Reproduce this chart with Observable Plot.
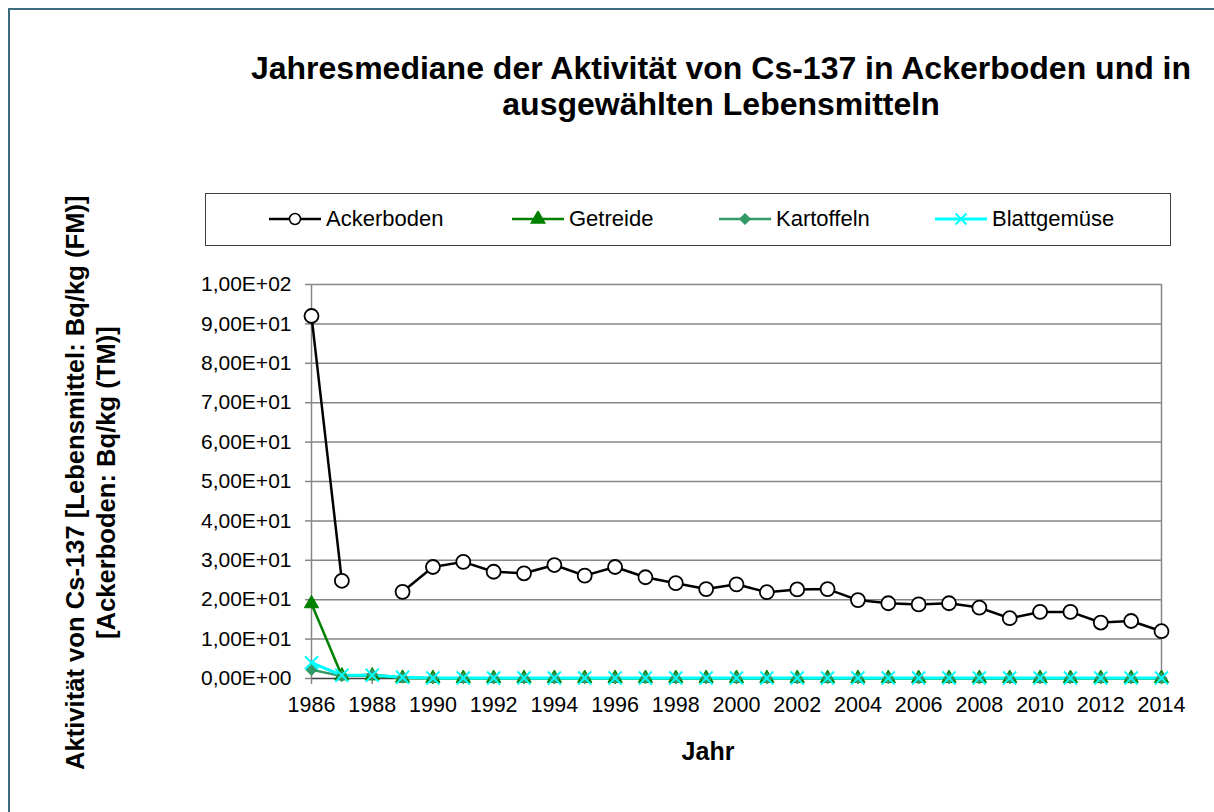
<!DOCTYPE html>
<html>
<head>
<meta charset="utf-8">
<script src="https://cdn.jsdelivr.net/npm/d3@7"></script>
<script src="https://cdn.jsdelivr.net/npm/@observablehq/plot@0.6"></script>
<style>
  html, body { margin: 0; padding: 0; background: #fff; overflow: hidden; }
  #root { position: relative; width: 1214px; height: 812px; font-family: "Liberation Sans", Arial, sans-serif; color: #000; }
  #frame { position: absolute; left: 8px; top: 8px; width: 1300px; height: 900px; border-left: 2px solid #3e6a80; border-top: 2px solid #3e6a80; box-sizing: border-box; }
  .title { position: absolute; left: 0; width: 1442px; text-align: center; font-weight: bold; font-size: 32px; white-space: nowrap; }
  #legend { position: absolute; left: 205px; top: 193px; width: 966px; height: 53px; border: 1.5px solid #404040; box-sizing: border-box; background: #fff; }
  .item { position: absolute; top: 0; height: 50px; display: flex; align-items: center; font-size: 22px; white-space: nowrap; }
  .item svg { margin-right: 4px; }
  #chart { position: absolute; left: 0; top: 0; width: 1214px; height: 812px; }
  #chart svg { max-width: none !important; }
  .ylab { position: absolute; font-weight: bold; font-size: 25.6px; white-space: nowrap; transform-origin: 0 0; }
  #xlab { position: absolute; left: 0; width: 1416px; top: 737px; text-align: center; font-weight: bold; font-size: 25px; }
</style>
</head>
<body>
<div id="root">
  <div id="frame"></div>
  <div class="title" id="t1" style="top:50px">Jahresmediane der Aktivität von Cs-137 in Ackerboden und in</div>
  <div class="title" id="t2" style="top:86px">ausgewählten Lebensmitteln</div>
  <div id="legend"></div>
  <div id="chart"></div>
  <div id="xlab">Jahr</div>
</div>
<script>
// ---- data ----
const years = [1986, 1987, 1988, 1989, 1990, 1991, 1992, 1993, 1994, 1995, 1996, 1997, 1998, 1999, 2000,
               2001, 2002, 2003, 2004, 2005, 2006, 2007, 2008, 2009, 2010, 2011, 2012, 2013, 2014];
const ackerboden = [92.0, 24.8, null, 22.0, 28.3, 29.6, 27.1, 26.7, 28.8, 26.1, 28.3, 25.7, 24.2, 22.7, 23.9,
                    21.9, 22.6, 22.7, 19.9, 19.1, 18.8, 19.1, 18.0, 15.3, 16.9, 16.9, 14.2, 14.6, 12.0];
const getreide = [19.0, 0.7, 0.7, 0.1, 0.05, 0.05, 0.05, 0.05, 0.05, 0.05, 0.05, 0.05, 0.05, 0.05, 0.05,
                  0.05, 0.05, 0.05, 0.05, 0.05, 0.05, 0.05, 0.05, 0.05, 0.05, 0.05, 0.05, 0.05, 0.05];
const kartoffeln = [2.2, 0.6, 1.0, 0.2, 0.05, 0.05, 0.05, 0.05, 0.05, 0.05, 0.05, 0.05, 0.05, 0.05, 0.05,
                    0.05, 0.05, 0.05, 0.05, 0.05, 0.05, 0.05, 0.05, 0.05, 0.05, 0.05, 0.05, 0.05, 0.05];
const blattgemuese = [4.0, 0.8, 0.8, 0.3, 0.1, 0.1, 0.1, 0.1, 0.1, 0.1, 0.1, 0.1, 0.1, 0.1, 0.1,
                      0.1, 0.1, 0.1, 0.1, 0.1, 0.1, 0.1, 0.1, 0.1, 0.1, 0.1, 0.1, 0.1, 0.1];
const seriesNames = ["Ackerboden", "Getreide", "Kartoffeln", "Blattgemüse"];
const xTicks = [1986, 1988, 1990, 1992, 1994, 1996, 1998, 2000, 2002, 2004, 2006, 2008, 2010, 2012, 2014];
const yTicks = [0, 10, 20, 30, 40, 50, 60, 70, 80, 90, 100];
const yLabel1 = "Aktivität von Cs-137 [Lebensmittel: Bq/kg (FM)]";
const yLabel2 = "[Ackerboden: Bq/kg (TM)]";

// ---- styles ----
const styles = {
  "Ackerboden":  {color: "#000000", symbol: "circle",   r: 7,   fill: "#ffffff", sw: 1.8, lw: 2.5, lr: 5.5},
  "Getreide":    {color: "#008000", symbol: "triangle", r: 5.3, fill: "#008000", sw: 1,   lw: 2.5, lr: 5},
  "Kartoffeln":  {color: "#339966", symbol: "diamond2", r: 5.0, fill: "#339966", sw: 1,   lw: 2.5, lr: 4.5},
  "Blattgemüse": {color: "#00FFFF", symbol: "times",    r: 6.0, fill: "none",    sw: 2,   lw: 3,   lr: 5}
};
const values = [ackerboden, getreide, kartoffeln, blattgemuese];
const table = seriesNames.map((s, k) => years.map((y, i) => ({year: y, value: values[k][i], series: s})));

const fmt = d => {
  const [m, e] = d.toExponential(2).split("e");
  const ev = +e;
  return m.replace(".", ",") + "E" + (ev < 0 ? "-" : "+") + String(Math.abs(ev)).padStart(2, "0");
};
const FONT = "'Liberation Sans', Arial, sans-serif";

const marks = [
  Plot.ruleY(yTicks.filter(d => d > 0), {stroke: "#868686", strokeWidth: 1.5}),
  Plot.ruleX([2014], {stroke: "#868686", strokeWidth: 1.5}),
  Plot.ruleX([1986], {stroke: "#868686", strokeWidth: 1.5}),
  Plot.ruleY([0], {stroke: "#404040", strokeWidth: 1.5}),
  // tick marks only (labels drawn as text marks below)
  Plot.axisY({ticks: yTicks, tickFormat: () => "", tickSize: 6, stroke: "#868686", strokeWidth: 1.5, label: null}),
  Plot.axisX({ticks: xTicks, tickFormat: () => "", tickSize: 6, stroke: "#868686", strokeWidth: 1.5, label: null}),
  // tick labels
  Plot.text(yTicks, {x: () => 1986, y: d => d, text: fmt, textAnchor: "end", dx: -20, fontSize: 21, fill: "#000", fontFamily: FONT}),
  Plot.text(xTicks, {x: d => d, y: () => 0, text: d => String(d), dy: 27, fontSize: 21.5, fill: "#000", fontFamily: FONT})
];
seriesNames.forEach((s, k) => {
  const st = styles[s];
  marks.push(Plot.line(table[k], {x: "year", y: "value", stroke: st.color, strokeWidth: st.lw, curve: "linear"}));
});
seriesNames.forEach((s, k) => {
  const st = styles[s];
  marks.push(Plot.dot(table[k].filter(d => d.value != null), {
    x: "year", y: "value", symbol: () => st.symbol, r: st.r,
    fill: st.fill, stroke: st.color, strokeWidth: st.sw
  }));
});

const chart = Plot.plot({
  width: 1214, height: 812,
  marginLeft: 311, marginRight: 53, marginTop: 284, marginBottom: 134,
  x: {domain: [1986, 2014], type: "linear"},
  y: {domain: [0, 100], type: "linear"},
  symbol: {type: "identity"},
  style: {background: "transparent", fontFamily: FONT, color: "#000", overflow: "visible"},
  marks
});
document.getElementById("chart").appendChild(chart);

// ---- legend ----
const legendX = [62, 305, 512, 728];
const symTypes = {circle: d3.symbolCircle, triangle: d3.symbolTriangle, diamond2: d3.symbolDiamond2, times: d3.symbolTimes};
const legend = document.getElementById("legend");
seriesNames.forEach((s, k) => {
  const st = styles[s];
  const sym = d3.symbol().type(symTypes[st.symbol]).size(Math.PI * st.lr * st.lr)();
  const fillAttr = st.symbol === "circle" ? "#fff" : st.fill;
  const div = document.createElement("div");
  div.className = "item";
  div.style.left = legendX[k] + "px";
  div.innerHTML = `<svg width="54" height="16" viewBox="0 -8 54 16"><line x1="1" x2="53" y1="0" y2="0" stroke="${st.color}" stroke-width="${st.lw}"/><path transform="translate(27,0)" d="${sym}" fill="${fillAttr}" stroke="${st.color}" stroke-width="${st.symbol === 'times' ? 2 : 1.5}"/></svg><span>${s}</span>`;
  legend.appendChild(div);
});

// ---- y label (rotated, two lines centered) ----
const root = document.getElementById("root");
[[yLabel1, 61], [yLabel2, 92]].forEach(([txt, x]) => {
  const el = document.createElement("div");
  el.className = "ylab";
  el.textContent = txt;
  root.appendChild(el);
  const w = el.offsetWidth;
  el.style.left = x + "px";
  el.style.top = (482 + w / 2) + "px";
  el.style.transform = "rotate(-90deg)";
});
</script>
</body>
</html>
